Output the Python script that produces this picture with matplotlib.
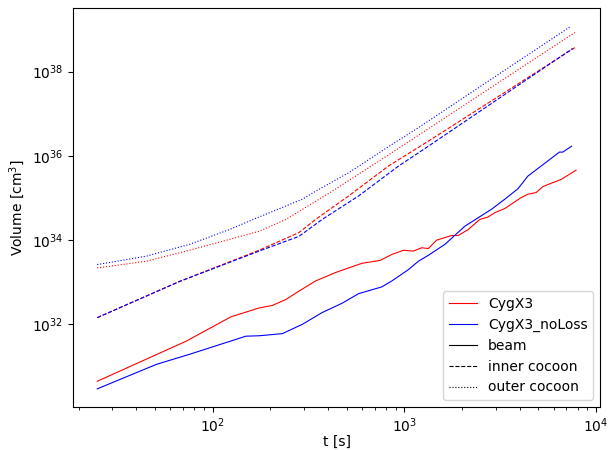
import numpy as np
import matplotlib
matplotlib.use("Agg")
import matplotlib.pyplot as plt
from matplotlib.lines import Line2D
from matplotlib.ticker import LogLocator, NullLocator

# values, volumes kept as log10(V / cm^3)
beam_t = [25, 72.6, 124.5, 174.6, 204.8, 240.5, 281.9, 343.8, 436.5, 600, 747.6, 859,
          988, 1114, 1231, 1333, 1472, 1762, 1907, 2148, 2472, 2730, 2958, 3334, 4064,
          4404, 4865, 5271, 5822, 6561, 7856]
beam_logv = [30.65, 31.60, 32.18, 32.39, 32.45, 32.59, 32.79, 33.03, 33.23, 33.45, 33.52, 33.66,
             33.76, 33.74, 33.82, 33.80, 34.00, 34.11, 34.11, 34.25, 34.49, 34.55, 34.65, 34.75, 35.01,
             35.09, 35.13, 35.27, 35.35, 35.44, 35.66]

beam_nl_t = [25, 50.8, 75.7, 148.9, 174.6, 230.7, 293, 372, 472, 577, 762, 859, 1049, 1183,
             1333, 1626, 2065, 2421, 2840, 3334, 3909, 4404, 5597, 6431, 6693, 7450]
beam_nl_logv = [30.47, 31.05, 31.29, 31.72, 31.73, 31.78, 32.00, 32.28, 32.50, 32.73, 32.89, 33.03,
                33.30, 33.50, 33.64, 33.90, 34.33, 34.53, 34.73, 34.97, 35.22, 35.52, 35.88, 36.09,
                36.09, 36.23]

inner_t = [25, 67.2, 174.6, 281.9, 343.8, 512, 826, 1333, 7745]
inner_logv = [32.16, 33.02, 33.76, 34.18, 34.49, 35.05, 35.76, 36.35, 38.57]

inner_nl_t = [25, 67.2, 174.6, 281.9, 372, 577, 933, 1333, 1503, 7540]
inner_nl_logv = [32.16, 33.02, 33.74, 34.09, 34.49, 35.05, 35.76, 36.23, 36.39, 38.55]

outer_t = [25, 45.1, 75.7, 174.6, 240.5, 419.6, 762, 1183, 7745]
outer_logv = [33.34, 33.50, 33.76, 34.21, 34.49, 35.16, 35.92, 36.49, 38.93]

outer_nl_t = [25, 45.1, 75.7, 121.9, 158.5, 293, 343.8, 512, 859, 1183, 7396]
outer_nl_logv = [33.42, 33.62, 33.90, 34.25, 34.47, 34.97, 35.16, 35.60, 36.27, 36.67, 39.08]

lw = 0.8

fig, ax = plt.subplots(figsize=(6.1, 4.5), dpi=100)
fig.subplots_adjust(left=0.1202, right=0.9836, top=0.9822, bottom=0.0956)

ax.plot(beam_t, 10 ** np.array(beam_logv), color="red", lw=lw, ls="-")
ax.plot(beam_nl_t, 10 ** np.array(beam_nl_logv), color="blue", lw=lw, ls="-")
ax.plot(inner_t, 10 ** np.array(inner_logv), color="red", lw=lw, ls="--")
ax.plot(inner_nl_t, 10 ** np.array(inner_nl_logv), color="blue", lw=lw, ls="--")
ax.plot(outer_t, 10 ** np.array(outer_logv), color="red", lw=lw, ls=":")
ax.plot(outer_nl_t, 10 ** np.array(outer_nl_logv), color="blue", lw=lw, ls=":")

ax.set_xscale("log")
ax.set_yscale("log")
# only every second decade on y, no minor ticks there
ax.yaxis.set_major_locator(LogLocator(base=100))
ax.yaxis.set_minor_locator(NullLocator())
ax.set_xlabel("t [s]", labelpad=0)
ax.set_ylabel("Volume [cm$^3$]")

handles = [
    Line2D([], [], color="red", lw=lw, ls="-"),
    Line2D([], [], color="blue", lw=lw, ls="-"),
    Line2D([], [], color="black", lw=lw, ls="-"),
    Line2D([], [], color="black", lw=lw, ls="--"),
    Line2D([], [], color="black", lw=lw, ls=":"),
]
labels = ["CygX3", "CygX3_noLoss", "beam", "inner cocoon", "outer cocoon"]
ax.legend(handles, labels, loc="lower right")

fig.savefig("out.png", dpi=100)
